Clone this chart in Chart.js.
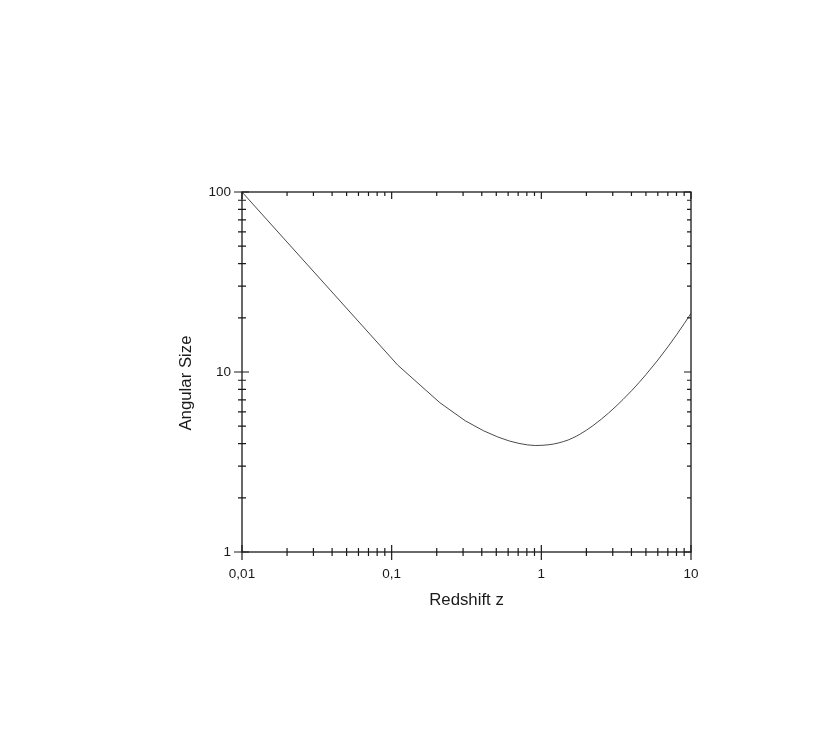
<!DOCTYPE html>
<html>
<head>
<meta charset="utf-8">
<script src="https://cdn.jsdelivr.net/npm/chart.js@4.4.0/dist/chart.umd.min.js"></script>
<style>
html, body { margin: 0; padding: 0; background: #fff; }
</style>
</head>
<body>
<canvas id="mycanvas" width="840" height="744"></canvas>
<script>
// values
var redshift = [0.01, 0.11, 0.21, 0.31, 0.41, 0.51, 0.61, 0.71, 0.81, 0.91, 1.01, 1.11, 1.21, 1.31,
	1.41, 1.51, 1.61, 1.71, 1.81, 2.01, 2.21, 2.51, 2.81, 3.01, 3.21, 3.51, 4.01, 4.51, 5.01, 6.01,
	7.01, 8.01, 9.01, 10];
var angularSize = [100, 10.9, 6.75, 5.36, 4.72, 4.36, 4.14, 4.01, 3.935, 3.905, 3.915, 3.94, 3.98, 4.04,
	4.11, 4.19, 4.29, 4.395, 4.51, 4.76, 5.03, 5.46, 5.91, 6.22, 6.54, 7.03, 7.87, 8.76, 9.69, 11.66,
	13.8, 16.1, 18.57, 21.18];

var xTickValues = [0.01, 0.1, 1, 10];
var xTickLabels = ['0,01', '0,1', '1', '10'];
var yTickValues = [1, 10, 100];
var yTickLabels = ['1', '10', '100'];
var xTitle = 'Redshift z';
var yTitle = 'Angular Size';

var fontFamily = 'Liberation Sans, Arial, sans-serif';

function logTicks(majors) {
	var out = [];
	for (var i = 0; i < majors.length; i++) {
		if (i == majors.length - 1) {
			out.push({value: majors[i]});
		} else {
			for (var k = 1; k < 10; k++) {
				out.push({value: majors[i] * k});
			}
		}
	}
	return out;
}

var points = [];
for (var i in redshift) {
	points.push({x: redshift[i], y: angularSize[i]});
}

// box round the plot, ticks on all four sides, and the rotated y title
var frameTicks = {
	id: 'frameTicks',
	afterDraw: function(chart) {
		var ctx = chart.ctx;
		var a = chart.chartArea;
		var xs = chart.scales.x;
		var ys = chart.scales.y;
		ctx.save();
		ctx.strokeStyle = '#1a1a1a';
		ctx.lineWidth = 1.3;
		ctx.strokeRect(a.left, a.top, a.right - a.left, a.bottom - a.top);
		ctx.lineWidth = 1.2;
		ctx.beginPath();
		xs.ticks.forEach(function(t) {
			var px = xs.getPixelForValue(t.value);
			var major = xTickValues.indexOf(t.value) >= 0;
			var len = major ? 7 : 4;
			ctx.moveTo(px, a.bottom - len);
			ctx.lineTo(px, a.bottom + (major ? 8 : 4));
			ctx.moveTo(px, a.top);
			ctx.lineTo(px, a.top + len);
		});
		ys.ticks.forEach(function(t) {
			var py = ys.getPixelForValue(t.value);
			var major = yTickValues.indexOf(t.value) >= 0;
			var len = major ? 7 : 4;
			ctx.moveTo(a.left - (major ? 8 : 4), py);
			ctx.lineTo(a.left + len, py);
			ctx.moveTo(a.right, py);
			ctx.lineTo(a.right - len, py);
		});
		ctx.stroke();

		ctx.translate(a.left - 56, (a.top + a.bottom) / 2 + 11);
		ctx.rotate(-Math.PI / 2);
		ctx.fillStyle = '#1a1a1a';
		ctx.font = '16.8px ' + fontFamily;
		ctx.textAlign = 'center';
		ctx.textBaseline = 'middle';
		ctx.fillText(yTitle, 0, 0);
		ctx.restore();
	}
};

var ctx = document.getElementById('mycanvas');

var chart = new Chart(ctx, {
	type: 'scatter',
	data: {
		datasets: [
			{
				label: yTitle,
				data: points,
				showLine: true,
				borderColor: '#4a4a4a',
				borderWidth: 1,
				pointRadius: 0,
				tension: 0
			}
		]
	},
	options: {
		responsive: false,
		animation: false,
		events: [],
		layout: {
			padding: {left: 176.4, right: 149, top: 192, bottom: 133.4}
		},
		plugins: {
			legend: {display: false},
			tooltip: {enabled: false}
		},
		scales: {
			x: {
				type: 'logarithmic',
				min: 0.01,
				max: 10,
				afterBuildTicks: function(s) { s.ticks = logTicks(xTickValues); },
				afterFit: function(s) { s.height = 58.6; },
				grid: {display: false, drawTicks: false},
				border: {display: false},
				ticks: {
					autoSkip: false,
					maxRotation: 0,
					padding: 14,
					color: '#1a1a1a',
					font: {family: fontFamily, size: 13.5},
					callback: function(v) {
						var idx = xTickValues.indexOf(v);
						return idx >= 0 ? xTickLabels[idx] : '';
					}
				},
				title: {
					display: true,
					text: xTitle,
					color: '#1a1a1a',
					padding: 0,
					font: {family: fontFamily, size: 16.8}
				}
			},
			y: {
				type: 'logarithmic',
				min: 1,
				max: 100,
				afterBuildTicks: function(s) { s.ticks = logTicks(yTickValues); },
				afterFit: function(s) { s.width = 65.6; },
				grid: {display: false, drawTicks: false},
				border: {display: false},
				ticks: {
					autoSkip: false,
					padding: 11,
					color: '#1a1a1a',
					font: {family: fontFamily, size: 13.5},
					callback: function(v) {
						var idx = yTickValues.indexOf(v);
						return idx >= 0 ? yTickLabels[idx] : '';
					}
				},
				title: {display: false}
			}
		}
	},
	plugins: [frameTicks]
});
</script>
</body>
</html>
